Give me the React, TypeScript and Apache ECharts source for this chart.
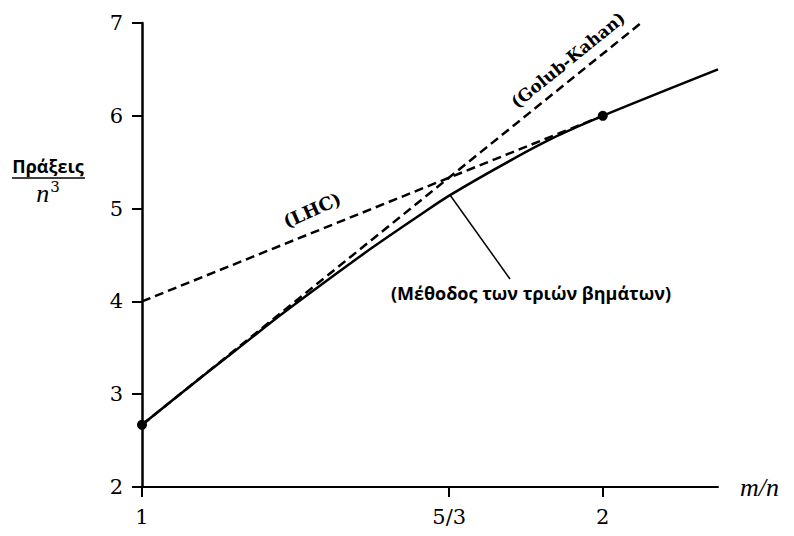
import React, { useEffect, useRef } from "react";
import * as echarts from "echarts";

// m/n ratio values and operation counts (divided by n^3)
const threeStepX = [1, 1.1, 1.2, 1.3, 1.4, 1.5, 1.6, 1.6667, 1.8, 1.9, 2, 2.25];
const threeStepY = [2.67, 3.07, 3.46, 3.85, 4.22, 4.58, 4.92, 5.14, 5.52, 5.78, 6.0, 6.5];
const golubKahanX = [1, 2.083];
const golubKahanY = [2.67, 7];
const lhcX = [1, 2];
const lhcY = [4, 6];
const markerX = [1, 2];
const markerY = [2.67, 6];
const xTickValues = [1, 5 / 3, 2];
const xTickLabels = ["1", "5/3", "2"];

const SERIF = "'DejaVu Serif', 'Liberation Serif', serif";
const ITALIC = "'Liberation Serif', 'DejaVu Serif', serif";
const SANS = "'Open Sans', 'Noto Sans', sans-serif";

export default function App() {
  const ref = useRef<HTMLDivElement>(null);
  useEffect(() => {
    if (!ref.current) return;
    const chart = echarts.init(ref.current, undefined, { renderer: "svg" });
    const pairs = (xs: number[], ys: number[]) => xs.map((x, i) => [x, ys[i]]);
    chart.setOption({
      animation: false,
      backgroundColor: "#ffffff",
      grid: { left: 142, right: 76, top: 23, bottom: 49 },
      xAxis: {
        type: "value",
        min: 1,
        max: 2.25,
        name: "m/n",
        nameLocation: "end",
        nameGap: 22,
        nameTextStyle: { fontFamily: ITALIC, fontStyle: "italic", fontSize: 26, color: "#000", verticalAlign: "middle" },
        axisLine: { show: true, onZero: false, lineStyle: { color: "#000", width: 2 } },
        axisTick: { show: true, customValues: xTickValues, length: 10, lineStyle: { color: "#000", width: 2 } },
        axisLabel: {
          customValues: xTickValues,
          margin: 19,
          fontFamily: SERIF,
          fontSize: 21,
          color: "#000",
          formatter: (v: number) => {
            const i = xTickValues.findIndex((t) => Math.abs(t - v) < 1e-6);
            return i >= 0 ? xTickLabels[i] : "";
          },
        },
        splitLine: { show: false },
      },
      yAxis: {
        type: "value",
        min: 2,
        max: 7,
        interval: 1,
        axisLine: { show: true, onZero: false, lineStyle: { color: "#000", width: 2.5 } },
        axisTick: { show: true, length: 10, lineStyle: { color: "#000", width: 2 } },
        axisLabel: { margin: 19, fontFamily: SERIF, fontSize: 21, color: "#000" },
        splitLine: { show: false },
      },
      series: [
        {
          type: "line",
          data: pairs(lhcX, lhcY),
          showSymbol: false,
          lineStyle: { color: "#000", width: 2.5, type: [9, 5] },
        },
        {
          type: "line",
          data: pairs(golubKahanX, golubKahanY),
          showSymbol: false,
          lineStyle: { color: "#000", width: 2.5, type: [9, 5] },
        },
        {
          type: "line",
          data: pairs(threeStepX, threeStepY),
          showSymbol: false,
          smooth: 0.3,
          lineStyle: { color: "#000", width: 2.5 },
        },
        {
          type: "scatter",
          data: pairs(markerX, markerY),
          symbolSize: 10,
          itemStyle: { color: "#000", opacity: 1 },
        },
      ],
      graphic: [
        {
          type: "text",
          x: 568,
          y: 60,
          rotation: (39 * Math.PI) / 180,
          style: { text: "(Golub-Kahan)", fontFamily: SERIF, fontWeight: "bold", fontSize: 17, fill: "#000", align: "center", verticalAlign: "middle" },
        },
        {
          type: "text",
          x: 312,
          y: 210,
          rotation: (24 * Math.PI) / 180,
          style: { text: "(LHC)", fontFamily: SERIF, fontWeight: "bold", fontSize: 18, fill: "#000", align: "center", verticalAlign: "middle" },
        },
        {
          type: "line",
          shape: { x1: 450, y1: 195, x2: 510, y2: 279 },
          style: { stroke: "#000", lineWidth: 1.5 },
        },
        {
          type: "text",
          x: 531,
          y: 293,
          style: { text: "(Μέθοδος των τριών βημάτων)", fontFamily: SANS, fontWeight: "bold", fontSize: 18, fill: "#000", align: "center", verticalAlign: "middle" },
        },
        {
          type: "text",
          x: 48,
          y: 166,
          style: { text: "Πράξεις", fontFamily: SANS, fontWeight: "bold", fontSize: 18, fill: "#000", align: "center", verticalAlign: "middle" },
        },
        {
          type: "line",
          shape: { x1: 12, y1: 178, x2: 85, y2: 178 },
          style: { stroke: "#000", lineWidth: 1.5 },
        },
        {
          type: "text",
          x: 48,
          y: 193,
          style: {
            text: "{n|n}{s|3}",
            align: "center",
            verticalAlign: "middle",
            rich: {
              n: { fontFamily: ITALIC, fontStyle: "italic", fontSize: 26, fill: "#000", color: "#000" },
              s: { fontFamily: SERIF, fontSize: 15, fill: "#000", color: "#000", verticalAlign: "top", padding: [0, 0, 12, 1] },
            },
          },
        },
      ],
    });
    return () => chart.dispose();
  }, []);
  return <div ref={ref} style={{ position: "fixed", left: 0, top: 0, width: 794, height: 536 }} />;
}
